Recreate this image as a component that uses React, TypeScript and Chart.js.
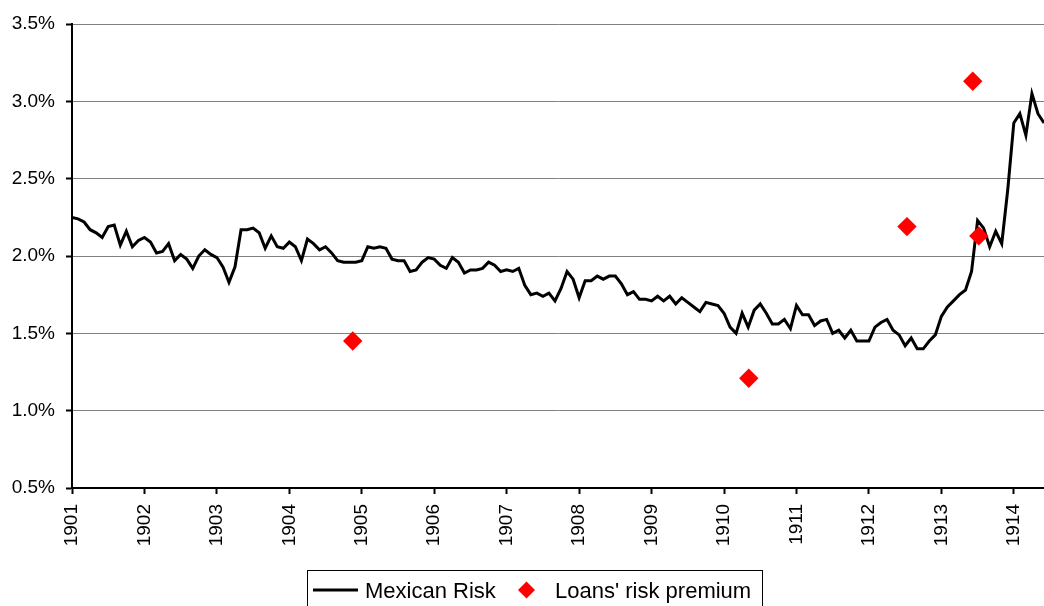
import React, { useEffect, useRef } from "react";
import { Chart, registerables } from "chart.js";

Chart.register(...registerables);

// Mexican Risk, monthly from Jan 1901 (percent)
const mexicanRisk: number[] = [
  2.25, 2.24, 2.22, 2.17, 2.15, 2.12, 2.19, 2.20, 2.07, 2.16, 2.06, 2.10,
  2.12, 2.09, 2.02, 2.03, 2.08, 1.97, 2.01, 1.98, 1.92, 2.00, 2.04, 2.01,
  1.99, 1.93, 1.83, 1.93, 2.17, 2.17, 2.18, 2.15, 2.05, 2.13, 2.06, 2.05,
  2.09, 2.06, 1.97, 2.11, 2.08, 2.04, 2.06, 2.02, 1.97, 1.96, 1.96, 1.96,
  1.97, 2.06, 2.05, 2.06, 2.05, 1.98, 1.97, 1.97, 1.90, 1.91, 1.96, 1.99,
  1.98, 1.94, 1.92, 1.99, 1.96, 1.89, 1.91, 1.91, 1.92, 1.96, 1.94, 1.90,
  1.91, 1.90, 1.92, 1.81, 1.75, 1.76, 1.74, 1.76, 1.71, 1.79, 1.90, 1.85,
  1.73, 1.84, 1.84, 1.87, 1.85, 1.87, 1.87, 1.82, 1.75, 1.77, 1.72, 1.72,
  1.71, 1.74, 1.71, 1.74, 1.69, 1.73, 1.70, 1.67, 1.64, 1.70, 1.69, 1.68,
  1.63, 1.54, 1.50, 1.63, 1.54, 1.65, 1.69, 1.63, 1.56, 1.56, 1.59, 1.53,
  1.68, 1.62, 1.62, 1.55, 1.58, 1.59, 1.50, 1.52, 1.47, 1.52, 1.45, 1.45,
  1.45, 1.54, 1.57, 1.59, 1.52, 1.49, 1.42, 1.47, 1.40, 1.40, 1.45, 1.49,
  1.61, 1.67, 1.71, 1.75, 1.78, 1.90, 2.23, 2.18, 2.06, 2.16, 2.08, 2.43,
  2.86, 2.92, 2.78, 3.05, 2.92, 2.86,
];

// Loans' risk premium: months since Jan 1901 and value (percent)
const loanMonths: number[] = [46.5, 112.1, 138.3, 149.2, 150.2];
const loanPremium: number[] = [1.45, 1.21, 2.19, 3.13, 2.13];

const startYear = 1901;
const xMaxMonths = 161;
const yTicks: number[] = [0.5, 1.0, 1.5, 2.0, 2.5, 3.0, 3.5];

const FONT = "'Liberation Sans', Arial, Helvetica, sans-serif";

const legendPlugin = {
  id: "boxLegend",
  afterDraw(chart: any) {
    const ctx = chart.ctx as CanvasRenderingContext2D;
    const ds = chart.data.datasets;
    const lineDs = ds.find((d: any) => d.type === "line");
    const ptDs = ds.find((d: any) => d.type === "scatter");
    ctx.save();
    ctx.strokeStyle = "#000";
    ctx.lineWidth = 1;
    ctx.strokeRect(307.5, 570.5, 455, 60);
    ctx.strokeStyle = "#000";
    ctx.lineWidth = 3;
    ctx.beginPath();
    ctx.moveTo(313, 590);
    ctx.lineTo(358, 590);
    ctx.stroke();
    ctx.fillStyle = "#000";
    ctx.font = `22px ${FONT}`;
    ctx.textBaseline = "alphabetic";
    ctx.textAlign = "left";
    ctx.fillText(lineDs.label, 365, 598);
    ctx.fillStyle = "#ff0000";
    const cx = 526.5, cy = 590, r = 8.5;
    ctx.beginPath();
    ctx.moveTo(cx, cy - r);
    ctx.lineTo(cx + r, cy);
    ctx.lineTo(cx, cy + r);
    ctx.lineTo(cx - r, cy);
    ctx.closePath();
    ctx.fill();
    ctx.fillStyle = "#000";
    ctx.fillText(ptDs.label, 555, 598);
    ctx.restore();
  },
};

export default function App() {
  const ref = useRef<HTMLCanvasElement | null>(null);
  useEffect(() => {
    document.body.style.margin = "0";
    if (!ref.current) return;
    Chart.defaults.font.family = FONT;
    const chart = new Chart(ref.current, {
      type: "line",
      data: {
        datasets: [
          {
            type: "scatter",
            label: "Loans' risk premium",
            data: loanMonths.map((m, i) => ({ x: m, y: loanPremium[i] })),
            pointStyle: "rectRot",
            pointRadius: 9.7,
            pointHoverRadius: 9.7,
            backgroundColor: "#ff0000",
            borderWidth: 0,
            showLine: false,
            order: 0,
          } as any,
          {
            type: "line",
            label: "Mexican Risk",
            data: mexicanRisk.map((v, i) => ({ x: i, y: v })),
            borderColor: "#000",
            borderWidth: 3,
            pointRadius: 0,
            tension: 0,
            fill: false,
            order: 1,
          } as any,
        ],
      },
      options: {
        responsive: false,
        animation: false,
        events: [],
        layout: { autoPadding: false, padding: { top: 24, left: 0, right: 0, bottom: 0 } },
        plugins: {
          legend: { display: false },
          tooltip: { enabled: false },
          title: { display: false },
        },
        scales: {
          x: {
            type: "linear",
            min: 0,
            max: xMaxMonths,
            border: { display: true, color: "#000", width: 2 },
            grid: {
              drawOnChartArea: false,
              drawTicks: true,
              tickLength: 6,
              tickColor: "#000",
              tickWidth: 2,
            },
            ticks: {
              stepSize: 12,
              includeBounds: false,
              autoSkip: false,
              maxRotation: 90,
              minRotation: 90,
              padding: 10,
              color: "#000",
              font: { size: 19, family: FONT },
              callback: (v: any) =>
                Number(v) % 12 === 0 ? String(startYear + Number(v) / 12) : "",
            },
            afterFit: (s: any) => {
              s.height = 118;
              s.paddingLeft = 0;
              s.paddingRight = 0;
            },
          },
          y: {
            type: "linear",
            min: 0.5,
            max: 3.5,
            afterBuildTicks: (s: any) => {
              s.ticks = yTicks.map((v) => ({ value: v }));
            },
            border: { display: true, color: "#000", width: 2 },
            grid: {
              color: "#808080",
              lineWidth: 1,
              drawTicks: true,
              tickLength: 6,
              tickColor: "#000",
              tickWidth: 2,
            },
            ticks: {
              padding: 11,
              color: "#000",
              font: { size: 19, family: FONT },
              callback: (v: any) => Number(v).toFixed(1) + "%",
            },
            afterFit: (s: any) => {
              s.width = 72;
            },
          },
        },
      },
      plugins: [legendPlugin],
    });
    return () => chart.destroy();
  }, []);
  return (
    <div style={{ width: 1044, height: 606 }}>
      <canvas ref={ref} width={1044} height={606} style={{ display: "block" }} />
    </div>
  );
}
